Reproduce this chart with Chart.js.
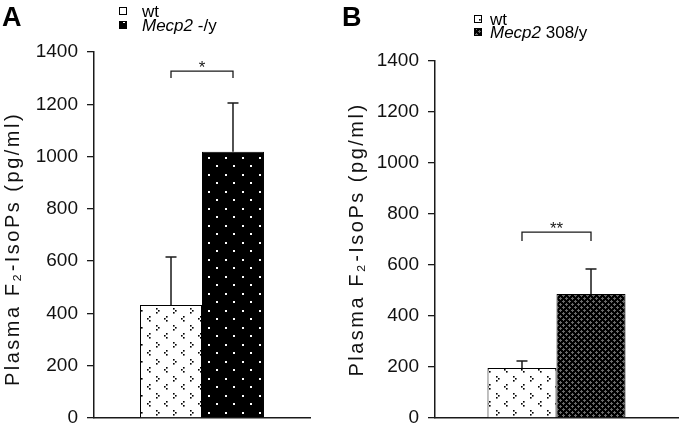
<!DOCTYPE html>
<html>
<head>
<meta charset="utf-8">
<script src="https://cdn.jsdelivr.net/npm/chart.js@4.4.1/dist/chart.umd.min.js"></script>
<style>
  html, body { margin: 0; padding: 0; background: #fff; }
  body { width: 679px; height: 424px; position: relative; overflow: hidden; }
  .panel { position: absolute; top: 0; height: 424px; }
  #panelA { left: 0; width: 340px; }
  #panelB { left: 340px; width: 339px; }
</style>
</head>
<body>
<div class="panel" id="panelA"><canvas id="chartA" width="340" height="424"></canvas></div>
<div class="panel" id="panelB"><canvas id="chartB" width="339" height="424"></canvas></div>
<script>
// ── datos ────────────────────────────────────
const yTicks = [0, 200, 400, 600, 800, 1000, 1200, 1400];

// Panel A: wt vs Mecp2 -/y
const valuesA = [432, 1018];
const errorsA = [184, 187];
const legendItalicA = ['', 'Mecp2'];
const legendPlainA = ['wt', ' -/y'];
const bracketA = [1327, 1301];   // barra superior, pie
const starsA = '*';

// Panel B: wt vs Mecp2 308/y
const valuesB = [196, 486];
const errorsB = [28, 98];
const legendItalicB = ['', 'Mecp2'];
const legendPlainB = ['wt', ' 308/y'];
const bracketB = [729, 694];
const starsB = '**';

const FONT = '"Liberation Sans", Arial, Helvetica, sans-serif';
const INK = '#1a1a1a';

// ── tramas de relleno ────────────────────────
function tile(w, h, paint) {
    const c = document.createElement('canvas');
    c.width = w; c.height = h;
    paint(c.getContext('2d'));
    return c.getContext('2d').createPattern(c, 'repeat');
}

// blanco con "flechitas" > y <
const patWt = tile(17, 17, g => {
    g.fillStyle = '#fff'; g.fillRect(0, 0, 17, 17);
    g.fillStyle = '#000';
    const dot = (x, y) => g.fillRect(x, y, 1.6, 1.6);
    dot(3, 2); dot(5, 4); dot(3, 6);          // >
    dot(13, 10); dot(11, 12); dot(13, 14);    // <
});

// negro con puntitos blancos
const patDots = tile(17, 17, g => {
    g.fillStyle = '#000'; g.fillRect(0, 0, 17, 17);
    g.fillStyle = '#fff';
    g.fillRect(4, 4, 2, 2);
    g.fillRect(12, 12, 2, 2);
});

// negro con damero gris fino
const patCheck = tile(6, 6, g => {
    g.fillStyle = '#000'; g.fillRect(0, 0, 6, 6);
    g.fillStyle = '#6a6a6a';
    g.fillRect(1, 0, 1, 3);
    g.fillRect(0, 1, 3, 1);
    g.fillRect(4, 3, 1, 3);
    g.fillRect(3, 4, 3, 1);
});

// ── plugin: barras de error, corchete, leyenda, letra ──
const extras = {
    id: 'extras',
    beforeDraw(chart, args, o) {
        const s = chart.scales.y;
        if (!s._wrapped) {
            const orig = s.drawTitle;
            s.drawTitle = function () {
                const ctx = this.ctx;
                ctx.save();
                ctx.letterSpacing = o.titleSpacing + 'px';
                ctx.translate(0, o.titleShift);
                orig.call(this);
                ctx.restore();
            };
            s._wrapped = true;
        }
    },
    afterDatasetsDraw(chart, args, o) {
        const ctx = chart.ctx;
        const y = chart.scales.y;
        ctx.save();
        ctx.strokeStyle = INK;
        ctx.lineWidth = 1.5;
        // barras de error (solo hacia arriba)
        chart.data.datasets.forEach((ds, i) => {
            const bar = chart.getDatasetMeta(i).data[0];
            const top = y.getPixelForValue(ds.data[0] + o.errors[i]);
            ctx.beginPath();
            ctx.moveTo(bar.x, bar.y);
            ctx.lineTo(bar.x, top);
            ctx.moveTo(bar.x - 5.5, top);
            ctx.lineTo(bar.x + 5.5, top);
            ctx.stroke();
        });
        // corchete de significancia
        const x0 = chart.getDatasetMeta(0).data[0].x;
        const x1 = chart.getDatasetMeta(1).data[0].x;
        const yb = y.getPixelForValue(o.bracket[0]);
        const yf = y.getPixelForValue(o.bracket[1]);
        ctx.lineWidth = 1.3;
        ctx.beginPath();
        ctx.moveTo(x0, yf); ctx.lineTo(x0, yb); ctx.lineTo(x1, yb); ctx.lineTo(x1, yf);
        ctx.stroke();
        ctx.fillStyle = INK;
        ctx.font = '17px ' + FONT;
        ctx.textAlign = 'center';
        ctx.textBaseline = 'alphabetic';
        ctx.fillText(o.stars, (x0 + x1) / 2, yb + 2);
        ctx.restore();
    },
    afterDraw(chart, args, o) {
        const ctx = chart.ctx;
        ctx.save();
        // letra del panel
        ctx.fillStyle = '#000';
        ctx.font = 'bold 27px ' + FONT;
        ctx.textBaseline = 'alphabetic';
        ctx.fillText(o.letter, 2, 26);
        // leyenda
        chart.data.datasets.forEach((ds, i) => {
            const cy = o.legendRows[i];
            ctx.fillStyle = ds.backgroundColor;
            ctx.fillRect(o.swatchX, cy - 4, 8, 8);
            ctx.strokeStyle = '#000';
            ctx.lineWidth = 1;
            ctx.strokeRect(o.swatchX + 0.5, cy - 3.5, 7, 7);
            ctx.fillStyle = '#000';
            ctx.textBaseline = 'alphabetic';
            let x = o.textX;
            const base = cy + 6;
            if (o.italic[i]) {
                ctx.font = 'italic 17px ' + FONT;
                ctx.fillText(o.italic[i], x, base);
                x += ctx.measureText(o.italic[i]).width;
            }
            ctx.font = '17px ' + FONT;
            ctx.fillText(o.plain[i], x, base);
        });
        ctx.restore();
    }
};

function panel(canvasId, values, patterns, cfg) {
    return new Chart(document.getElementById(canvasId), {
        type: 'bar',
        data: {
            labels: [''],
            datasets: values.map((v, i) => ({
                label: cfg.italic[i] + cfg.plain[i],
                data: [v],
                backgroundColor: patterns[i],
                borderColor: '#000',
                borderWidth: 1,
                borderSkipped: 'bottom',
                barPercentage: 1,
                categoryPercentage: cfg.groupWidth,
            }))
        },
        options: {
            responsive: false,
            animation: false,
            events: [],
            layout: { padding: cfg.padding },
            plugins: {
                legend: { display: false },
                tooltip: { enabled: false },
                extras: cfg,
            },
            scales: {
                x: {
                    grid: { display: false },
                    ticks: { display: false },
                    border: { display: true, color: INK, width: 1.5 },
                    afterFit(s) { s.height = 6; s.paddingLeft = 0; s.paddingRight = 0; }
                },
                y: {
                    min: 0,
                    max: 1400,
                    afterBuildTicks(s) { s.ticks = yTicks.map(v => ({ value: v })); },
                    ticks: {
                        padding: 9,
                        color: '#111',
                        font: { family: FONT, size: 19 },
                        callback: v => String(v)
                    },
                    grid: { drawOnChartArea: false, drawTicks: true, tickLength: 7, color: INK, lineWidth: 1.3 },
                    border: { display: true, color: INK, width: 1.5 },
                    title: {
                        display: true,
                        text: 'Plasma F\u2082-IsoPs (pg/ml)',
                        color: '#111',
                        font: { family: FONT, size: 20, lineHeight: 1 },
                        padding: { top: cfg.titlePad, bottom: 0 }
                    },
                    afterFit(s) { s.width = cfg.axisWidth; s.paddingTop = 0; s.paddingBottom = 0; }
                }
            }
        },
        plugins: [extras]
    });
}

panel('chartA', valuesA, [patWt, patDots], {
    letter: 'A',
    errors: errorsA,
    bracket: bracketA,
    stars: starsA,
    italic: legendItalicA,
    plain: legendPlainA,
    legendRows: [11, 25],
    swatchX: 119,
    textX: 142,
    padding: { top: 52, right: 30, bottom: 0, left: 0 },
    axisWidth: 94,
    groupWidth: 0.574,
    titlePad: 3,
    titleSpacing: 2.5,
    titleShift: 14,
});

panel('chartB', valuesB, [patWt, patCheck], {
    letter: 'B',
    errors: errorsB,
    bracket: bracketB,
    stars: starsB,
    italic: legendItalicB,
    plain: legendPlainB,
    legendRows: [19, 32],
    swatchX: 134,
    textX: 150,
    padding: { top: 61, right: 1, bottom: 0, left: 0 },
    axisWidth: 95,
    groupWidth: 0.568,
    titlePad: 7,
    titleSpacing: 2.5,
    titleShift: 0,
});
</script>
</body>
</html>
